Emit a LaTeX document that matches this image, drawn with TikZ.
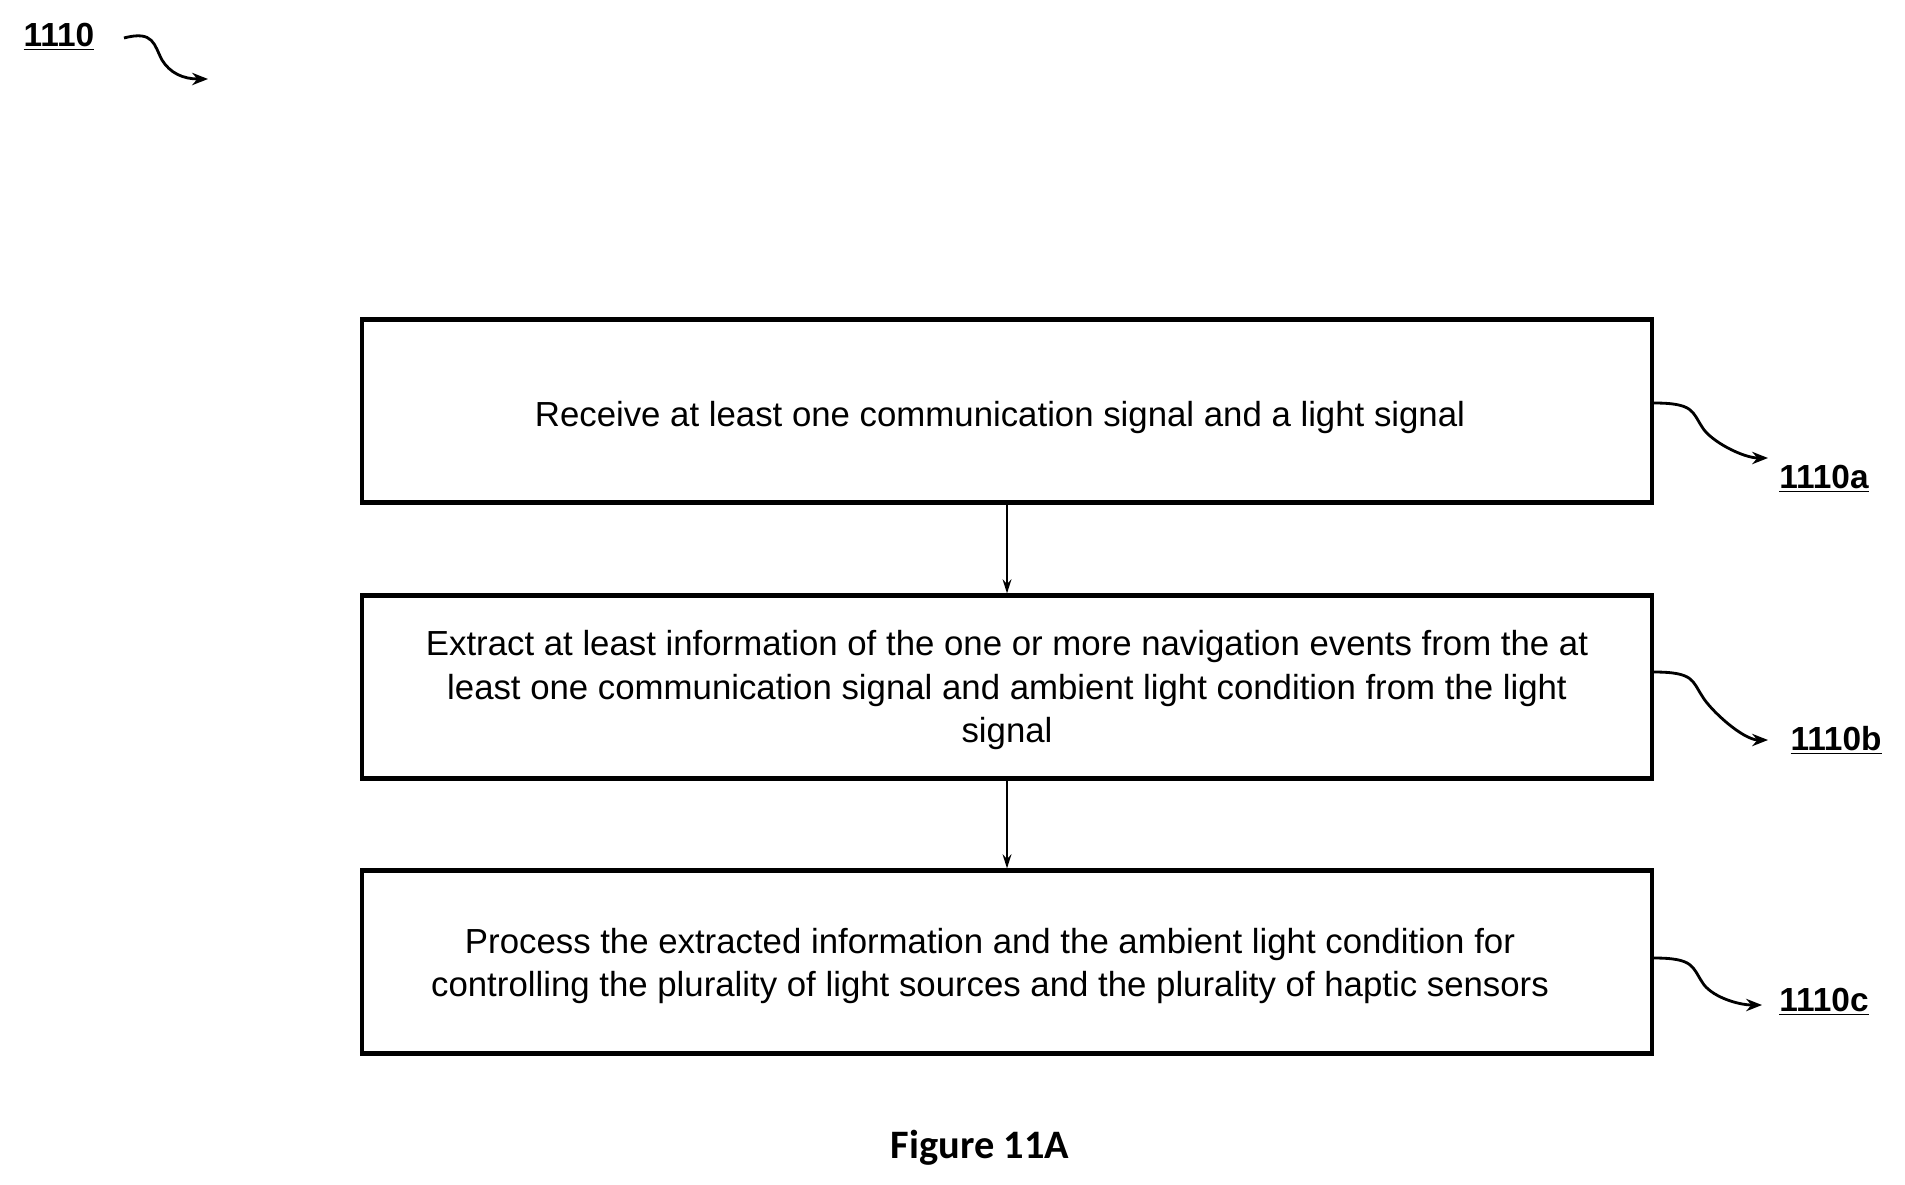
\documentclass[tikz,border=0pt]{standalone}
\usepackage{fontspec}
\setmainfont{Liberation Sans}
\newfontfamily\calib{Carlito}
\usetikzlibrary{arrows.meta}
\begin{document}
\begin{tikzpicture}[x=0.02cm,y=-0.02cm,
  stepbox/.style={draw,line width=2.4pt,minimum width=1290*0.02cm,minimum height=183*0.02cm,align=center,font=\fontsize{19.8}{24.5}\selectfont},
  lbl/.style={font=\bfseries\fontsize{19}{22}\selectfont},
  sq/.style={line width=1.6pt,-{Stealth[length=9pt,width=7pt]}},
  conn/.style={line width=1.2pt,-{Stealth[length=8pt,width=5pt]}}]
\useasboundingbox (0,0) rectangle (1905,1184);
\node[stepbox] (a) at (1007,411) {};
\node[stepbox] (b) at (1007,687) {};
\node[stepbox] (c) at (1007,962) {};
\node[font=\fontsize{19.8}{24.5}\selectfont,align=center] (ta) at (1000,417) {Receive at least one communication signal and a light signal};
\node[font=\fontsize{19.8}{24.5}\selectfont,align=center] (tb) at (1007,690) {Extract at least information of the one or more navigation events from the at\\least one communication signal and ambient light condition from the light\\signal};
\node[font=\fontsize{19.8}{24.5}\selectfont,align=center] (tc) at (990,966) {Process the extracted information and the ambient light condition for\\controlling the plurality of light sources and the plurality of haptic sensors};
\draw[conn] (a.south) -- (b.north);
\draw[conn] (b.south) -- (c.north);
\node[lbl] (la) at (1824,479) {\underline{1110a}};
\node[lbl] (lb) at (1836,740) {\underline{1110b}};
\node[lbl] (lc) at (1824,1002) {\underline{1110c}};
\node[lbl] (l0) at (59,37) {\underline{1110}};
\coordinate (ea) at (1768,458);
\coordinate (eb) at (1768,740);
\coordinate (ec) at (1762,1005);
\coordinate (e0) at (208,79);
\draw[sq] ([yshift=0.16cm]a.east) .. controls +(40,0) and +(-10,-15) .. ++(48,24) .. controls +(8,14) and +(-25,0) .. (ea);
\draw[sq] ([yshift=0.3cm]b.east) .. controls +(40,0) and +(-10,-15) .. ++(48,24) .. controls +(8,14) and +(-25,0) .. (eb);
\draw[sq] ([yshift=0.08cm]c.east) .. controls +(40,0) and +(-10,-15) .. ++(48,24) .. controls +(8,14) and +(-25,0) .. (ec);
\draw[sq] (124,38) .. controls +(30,-8) and +(-8,-15) .. (162,60) .. controls +(8,13) and +(-25,0) .. (e0);
\node[font=\calib\bfseries\fontsize{23}{26}\selectfont] (fig) at (980,1148) {Figure 11A};
\end{tikzpicture}
\end{document}
